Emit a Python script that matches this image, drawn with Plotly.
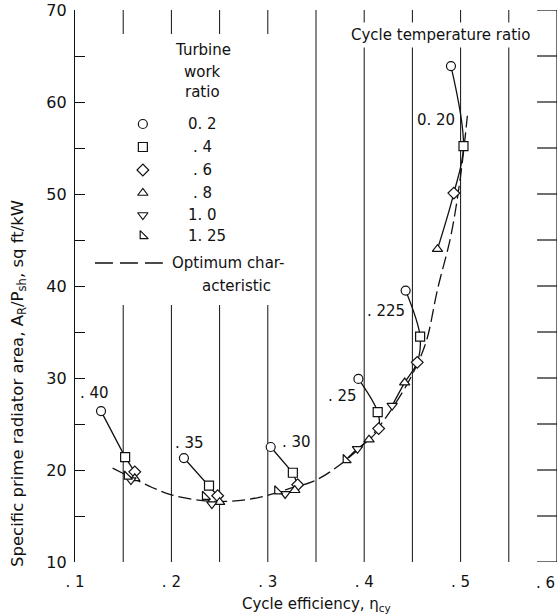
import plotly.graph_objects as go

# ---------------- data ----------------
work_ratio_labels = ["0. 2", ". 4", ". 6", ". 8", "1. 0", "1. 25"]
work_symbols = ["circle", "square", "diamond", "triangle-up", "triangle-down", "triangle-sw"]

temp_ratio_labels = [". 40", ". 35", ". 30", ". 25", ". 225", "0. 20"]

# points ordered by turbine work ratio 0.2, 0.4, 0.6, 0.8, 1.0, 1.25
eff_040 = [0.127, 0.152, 0.162, 0.162, 0.158, 0.154]
area_040 = [26.4, 21.4, 19.8, 19.1, 18.9, 19.3]
eff_035 = [0.213, 0.239, 0.248, 0.250, 0.242, 0.235]
area_035 = [21.3, 18.3, 17.2, 16.5, 16.3, 17.1]
eff_030 = [0.303, 0.326, 0.331, 0.328, 0.318, 0.310]
area_030 = [22.5, 19.7, 18.4, 17.8, 17.4, 17.7]
eff_025 = [0.394, 0.414, 0.415, 0.405, 0.393, 0.381]
area_025 = [29.9, 26.3, 24.5, 23.3, 22.3, 21.1]
eff_0225 = [0.443, 0.458, 0.455, 0.442, 0.429]
area_0225 = [39.5, 34.5, 31.7, 29.5, 27.0]
eff_020 = [0.490, 0.503, 0.493, 0.476]
area_020 = [63.9, 55.2, 50.1, 44.0]

opt_eff = [0.139, 0.160, 0.180, 0.200, 0.230, 0.260, 0.290, 0.320, 0.350, 0.380,
           0.410, 0.440, 0.455, 0.465, 0.476, 0.490, 0.500, 0.507]
opt_area = [20.2, 19.1, 18.1, 17.3, 16.7, 16.6, 17.0, 17.9, 18.9, 21.0,
            24.0, 28.5, 31.5, 34.2, 39.6, 45.5, 52.0, 58.5]

x_tick_vals = [0.1, 0.2, 0.3, 0.4, 0.5]
x_tick_text = [". 1", ". 2", ". 3", ". 4", ". 5"]
x_last_tick = (0.6, ". 6")
y_tick_vals = [10, 20, 30, 40, 50, 60, 70]
y_tick_text = ["10", "20", "30", "40", "50", "60", "70"]
y_right_ticks = [10, 15, 20, 25, 30, 35, 40, 45, 50, 55, 60, 65, 70]

groups = [
    (eff_040, area_040, "linear"),
    (eff_035, area_035, "linear"),
    (eff_030, area_030, "linear"),
    (eff_025, area_025, "spline"),
    (eff_0225, area_0225, "spline"),
    (eff_020, area_020, "spline"),
]

FONT = "DejaVu Sans, sans-serif"
BLACK = "#111111"
FS = 15

fig = go.Figure()

# optimum characteristic
fig.add_trace(go.Scatter(x=opt_eff, y=opt_area, mode="lines", line_shape="spline",
                         line=dict(color=BLACK, width=1.3, dash="13px,5px"),
                         showlegend=False, hoverinfo="skip"))

# group lines and markers
for ex, ay, shp in groups:
    fig.add_trace(go.Scatter(x=ex, y=ay, mode="lines", line_shape=shp,
                             line=dict(color=BLACK, width=1.3, smoothing=1.0),
                             showlegend=False, hoverinfo="skip"))
for ex, ay, shp in groups:
    fig.add_trace(go.Scatter(
        x=ex, y=ay, mode="markers",
        marker=dict(symbol=work_symbols[:len(ex)], size=9, color="white",
                    line=dict(color=BLACK, width=1.2)),
        showlegend=False))

# ---------------- layout helpers ----------------
def xd(px):
    return 0.1 + (px - 75) / 966.0

def yd(py):
    return 70 - (py - 10) / 9.2

shapes = []
# vertical grid lines every 0.05
for i in range(1, 10):
    gx = 0.1 + 0.05 * i
    shapes.append(dict(type="line", xref="x", yref="y", x0=gx, x1=gx, y0=10, y1=70,
                       line=dict(color=BLACK, width=1), layer="below"))
# white patch behind the legend block
shapes.append(dict(type="rect", xref="x", yref="y", x0=xd(110), x1=xd(300),
                   y0=yd(305), y1=yd(34), fillcolor="white", line=dict(width=0),
                   layer="below"))
# right axis line and inward ticks
shapes.append(dict(type="line", xref="x", yref="y", x0=0.6, x1=0.6, y0=10, y1=70,
                   line=dict(color=BLACK, width=1.2)))
for tv in y_right_ticks:
    shapes.append(dict(type="line", xref="x", yref="y", x0=0.6 - 20 / 966.0, x1=0.6,
                       y0=tv, y1=tv, line=dict(color=BLACK, width=1.2)))
# legend dashed sample
shapes.append(dict(type="line", xref="x", yref="y", x0=xd(95), x1=xd(163),
                   y0=yd(263), y1=yd(263),
                   line=dict(color=BLACK, width=1.3, dash="18px,7px")))

# legend key markers
key_y = [124, 147, 170, 193, 215, 236]
fig.add_trace(go.Scatter(
    x=[xd(143)] * 6, y=[yd(v) for v in key_y], mode="markers",
    marker=dict(symbol=work_symbols, size=9, color="white", line=dict(color=BLACK, width=1.2)),
    showlegend=False, hoverinfo="skip"))

ann = []
tf = dict(family=FONT, size=FS, color=BLACK)
for txt, py in [("Turbine", 50), ("work", 72), ("ratio", 92)]:
    ann.append(dict(x=xd(203), y=yd(py), text=txt, showarrow=False, font=tf,
                    xanchor="center", yanchor="middle"))
for txt, py in zip(work_ratio_labels, key_y):
    px = 186 if not txt.startswith(".") else 191
    ann.append(dict(x=xd(px), y=yd(py), text=txt, showarrow=False, font=tf,
                    xanchor="left", yanchor="middle"))
ann.append(dict(x=xd(170), y=yd(263), text="Optimum char-", showarrow=False, font=tf,
                xanchor="left", yanchor="middle"))
ann.append(dict(x=xd(237), y=yd(286), text="acteristic", showarrow=False, font=tf,
                xanchor="center", yanchor="middle"))
ann.append(dict(x=xd(441), y=yd(35), text="Cycle temperature ratio", showarrow=False,
                font=tf, xanchor="center", yanchor="middle", bgcolor="white", borderpad=3))

label_pos = [(95, 393), (190, 443), (297, 442), (343, 396), (387, 311), (437, 120)]
for txt, (px, py) in zip(temp_ratio_labels, label_pos):
    ann.append(dict(x=xd(px), y=yd(py), text=txt, showarrow=False, font=tf,
                    xanchor="center", yanchor="middle"))

# last x tick label kept inside the page
ann.append(dict(x=x_last_tick[0], y=0, yref="paper", text=x_last_tick[1], showarrow=False,
                font=tf, xanchor="right", yanchor="top", yshift=-10))

# axis titles
ann.append(dict(xref="paper", yref="paper", x=(18 - 75) / 482.0, y=(562 - 384) / 552.0,
                text="Specific prime radiator area, A<sub>R</sub>/P<sub>sh</sub>, sq ft/kW",
                textangle=-90, showarrow=False, font=dict(family=FONT, size=16.5, color=BLACK),
                xanchor="center", yanchor="middle"))
ann.append(dict(xref="paper", yref="paper", x=0.5, y=-(604 - 562) / 552.0,
                text="Cycle efficiency, \u03b7<sub>cy</sub>", showarrow=False, font=tf,
                xanchor="center", yanchor="middle"))

fig.update_layout(
    width=558, height=616,
    margin=dict(l=75, r=1, t=10, b=54),
    plot_bgcolor="white", paper_bgcolor="white",
    font=dict(family=FONT, size=FS, color=BLACK),
    showlegend=False,
    shapes=shapes, annotations=ann,
    xaxis=dict(range=[0.1, 0.6], tickvals=x_tick_vals, ticktext=x_tick_text,
               showgrid=False, zeroline=False, showline=False,
               ticks="outside", ticklen=6, tickcolor="rgba(0,0,0,0)",
               tickfont=dict(family=FONT, size=FS, color=BLACK)),
    yaxis=dict(range=[10, 70], tickvals=y_tick_vals, ticktext=y_tick_text,
               showgrid=False, zeroline=False, showline=True, linecolor=BLACK, linewidth=1.2,
               ticks="inside", ticklen=10, tickcolor=BLACK, tickwidth=1.2,
               minor=dict(ticks="inside", ticklen=10, tickcolor=BLACK, tickwidth=1.2, dtick=5,
                          showgrid=False),
               ticklabelstandoff=4,
               tickfont=dict(family=FONT, size=16, color=BLACK)),
)

fig.write_html("out.html")
